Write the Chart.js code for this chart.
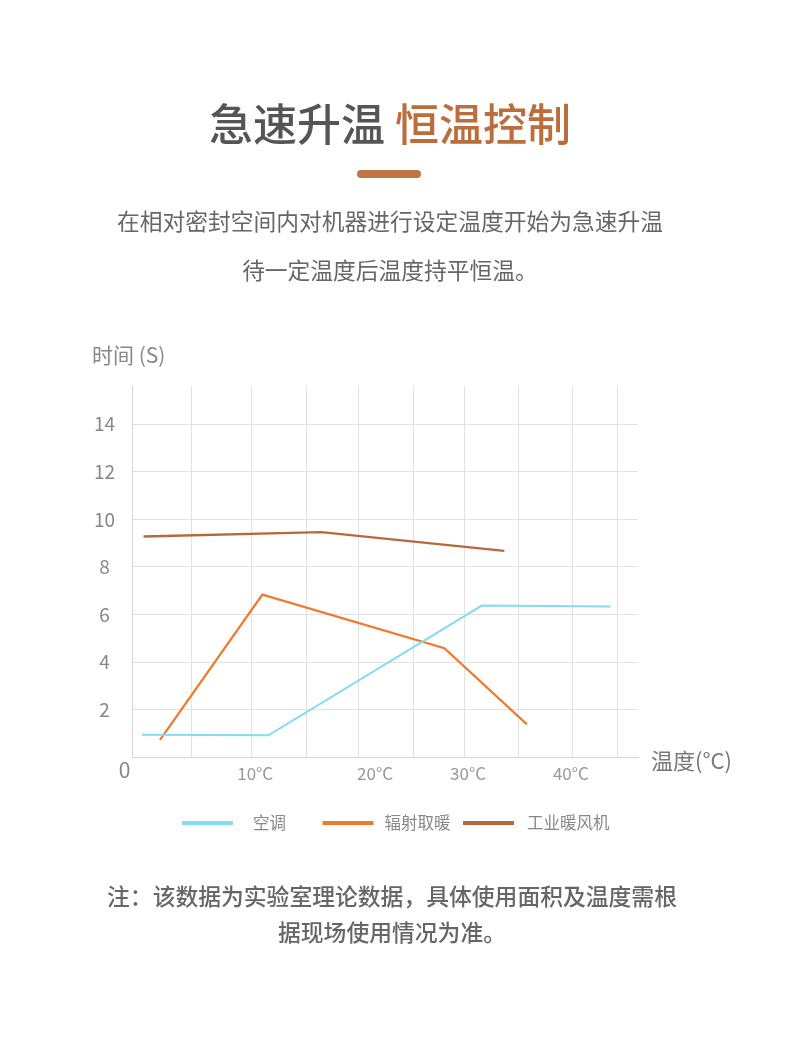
<!DOCTYPE html>
<html>
<head>
<meta charset="utf-8">
<script src="https://cdn.jsdelivr.net/npm/chart.js@4.4.1/dist/chart.umd.min.js"></script>
<style>
	html, body { margin: 0; padding: 0; background: #fff; }
	body { width: 790px; height: 1044px; position: relative; overflow: hidden; font-family: "Noto Sans CJK SC", "Noto Sans", sans-serif; }
	#chart { position: absolute; left: 0; top: 0; }
	.txt { position: absolute; white-space: nowrap; }
	.center { left: 0; width: 780px; text-align: center; }
	#title { top: 100px; font-size: 44px; line-height: 44px; font-weight: 500; color: #555; }
	#title span { color: #ba6e3e; }
	#bar { position: absolute; left: 357px; top: 170px; width: 64px; height: 8px; border-radius: 4px; background: #c07443; }
	.sub { font-size: 22.75px; line-height: 24px; color: #666; }
	.note { font-size: 22.8px; line-height: 24px; color: #666; font-weight: 500; }
	#yTitle { left: 92px; top: 343px; font-size: 21px; line-height: 22px; color: #888; }
	#xTitle { left: 651px; top: 747px; font-size: 22px; line-height: 24px; color: #777; }
</style>
</head>
<body>
<canvas id="chart" width="790" height="1044"></canvas>
<div id="title" class="txt center">急速升温 <span>恒温控制</span></div>
<div id="bar"></div>
<div class="txt center sub" style="top:209px">在相对密封空间内对机器进行设定温度开始为急速升温</div>
<div class="txt center sub" style="top:258px">待一定温度后温度持平恒温。</div>
<div id="yTitle" class="txt">时间 (S)</div>
<div id="xTitle" class="txt">温度(°C)</div>
<div class="txt center note" style="top:884px; left:2px">注：该数据为实验室理论数据，具体使用面积及温度需根</div>
<div class="txt center note" style="top:920px; left:2px">据现场使用情况为准。</div>
<script>
// x axis units: position along the temperature axis (axis runs 0..46)
const xMax = 46;
const yMax = 15.6;

const seriesNames = ["空调", "辐射取暖", "工业暖风机"];
const seriesColors = ["#84dcf2", "#ee7b31", "#b8693c"];

const airCon = [
	{ x: 0.9, y: 0.96 },
	{ x: 12.4, y: 0.93 },
	{ x: 31.8, y: 6.38 },
	{ x: 43.5, y: 6.34 },
];
const radiant = [
	{ x: 2.55, y: 0.74 },
	{ x: 11.85, y: 6.84 },
	{ x: 28.4, y: 4.59 },
	{ x: 35.9, y: 1.39 },
];
const fanHeater = [
	{ x: 1.05, y: 9.28 },
	{ x: 17.2, y: 9.46 },
	{ x: 33.85, y: 8.68 },
];

const xLabelTicks = [0, 11.2, 22.1, 30.55, 39.9];
const xLabelText = ["0\u2002\u2009", "10°C", "20°C", "30°C", "40°C"];
const xGridTicks = [5.45, 10.9, 15.9, 20.6, 25.6, 30.2, 35.1, 40.0, 44.1];
const yTicks = [0, 2, 4, 6, 8, 10, 12, 14];

const legendGap = [20, 11, 13];

const fontFamily = '"Noto Sans CJK SC", "Noto Sans", sans-serif';

const legendRow = {
	id: 'legendRow',
	afterDraw(chart) {
		const ctx = chart.ctx;
		ctx.save();
		ctx.font = `16.5px ${fontFamily}`;
		ctx.textBaseline = 'middle';
		chart.data.datasets.forEach((ds, i) => {
			const x = 182 + i * 140.5;
			ctx.fillStyle = ds.borderColor;
			ctx.fillRect(x, 821, 51, 4);
			ctx.fillStyle = '#888';
			ctx.fillText(ds.label, x + 51 + legendGap[i], 823);
		});
		ctx.restore();
	}
};

const allX = [...xLabelTicks, ...xGridTicks].sort((a, b) => a - b);
const isOrigin = ctx => ctx.tick && ctx.tick.value === 0;

new Chart(document.getElementById('chart'), {
	type: 'line',
	data: {
		datasets: [airCon, radiant, fanHeater].map((data, i) => ({
			label: seriesNames[i],
			data: data,
			borderColor: seriesColors[i],
			backgroundColor: seriesColors[i],
			borderWidth: i === 0 ? 2 : 2.3,
			pointRadius: 0,
			tension: 0,
			fill: false,
		}))
	},
	options: {
		responsive: false,
		animation: false,
		devicePixelRatio: 1,
		layout: { padding: { left: 82, right: 152, top: 386, bottom: 256.5 } },
		plugins: {
			legend: { display: false },
			tooltip: { enabled: false },
		},
		scales: {
			x: {
				type: 'linear',
				min: 0,
				max: xMax,
				afterBuildTicks: scale => { scale.ticks = allX.map(v => ({ value: v })); },
				afterFit: scale => { scale.height = 30; },
				border: { display: true, color: '#d4d4d4', width: 1 },
				grid: {
					drawTicks: false,
					color: ctx => (ctx.tick && xGridTicks.includes(ctx.tick.value)) ? '#e2e2e2' : 'rgba(0,0,0,0)',
					lineWidth: 1,
				},
				ticks: {
					autoSkip: false,
					maxRotation: 0,
					padding: 6,
					color: ctx => isOrigin(ctx) ? '#888' : '#999',
					font: ctx => isOrigin(ctx)
						? { family: fontFamily, size: 21, lineHeight: 0.62 }
						: { family: fontFamily, size: 17 },
					callback: value => {
						const i = xLabelTicks.indexOf(value);
						return i >= 0 ? xLabelText[i] : '';
					},
				},
			},
			y: {
				type: 'linear',
				min: 0,
				max: yMax,
				afterBuildTicks: scale => { scale.ticks = yTicks.map(v => ({ value: v })); },
				afterFit: scale => { scale.width = 50; },
				border: { display: true, color: '#d4d4d4', width: 1 },
				grid: {
					drawTicks: false,
					color: ctx => isOrigin(ctx) ? 'rgba(0,0,0,0)' : '#e2e2e2',
					lineWidth: 1,
				},
				ticks: {
					crossAlign: 'center',
					padding: 17,
					color: '#888',
					font: { family: fontFamily, size: 19 },
					callback: value => value === 0 ? '' : String(value),
				},
			},
		},
	},
	plugins: [legendRow],
});
</script>
</body>
</html>
